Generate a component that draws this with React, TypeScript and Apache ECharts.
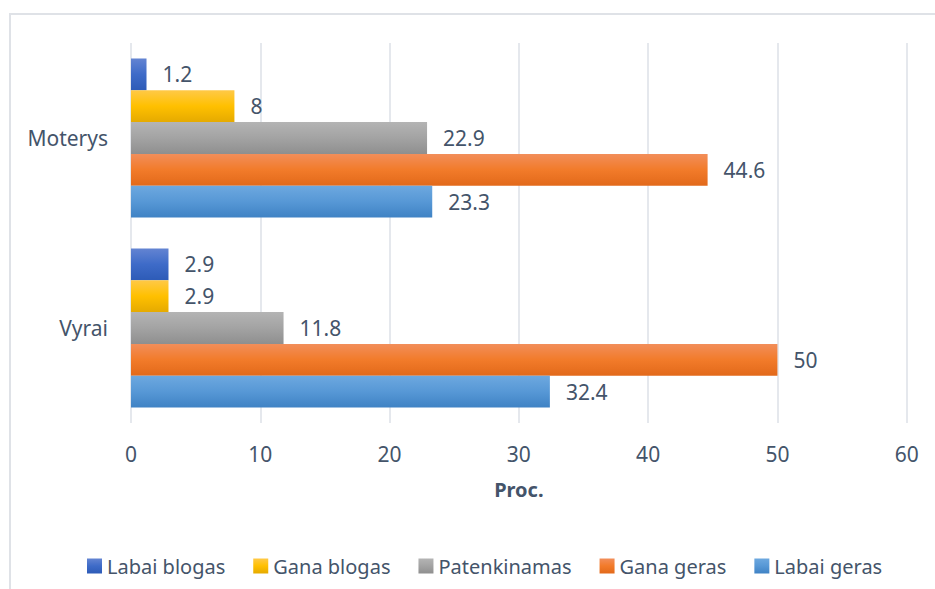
import React, { useEffect, useRef } from "react";
import * as echarts from "echarts";

const categories = ["Vyrai", "Moterys"];
const seriesNames = ["Labai blogas", "Gana blogas", "Patenkinamas", "Gana geras", "Labai geras"];
const labaiBlogas = [2.9, 1.2];
const ganaBlogas = [2.9, 8];
const patenkinamas = [11.8, 22.9];
const ganaGeras = [50, 44.6];
const labaiGeras = [32.4, 23.3];
const xTicks = [0, 10, 20, 30, 40, 50, 60];

const gradients: string[][] = [
  ["#6384D2", "#3E6BC8", "#2D5BB7"],
  ["#FFC947", "#FFC000", "#E5AA00"],
  ["#B4B4B4", "#A3A3A3", "#8F8F8F"],
  ["#F28E5A", "#F27B2A", "#E2691A"],
  ["#6DA8DF", "#5798D6", "#3F82C4"],
];

const TEXT = "#44546A";
const FONT = "Noto Sans";

export default function App() {
  const ref = useRef<HTMLDivElement>(null);
  useEffect(() => {
    if (!ref.current) return;
    const chart = echarts.init(ref.current, undefined, { renderer: "svg" });
    const values = [labaiBlogas, ganaBlogas, patenkinamas, ganaGeras, labaiGeras];
    const mkColor = (g: string[]) =>
      new echarts.graphic.LinearGradient(0, 0, 0, 1, [
        { offset: 0, color: g[0] },
        { offset: 0.5, color: g[1] },
        { offset: 1, color: g[2] },
      ]);
    chart.setOption({
      animation: false,
      textStyle: { fontFamily: FONT },
      graphic: [
        {
          type: "rect",
          shape: { x: 10, y: 14, width: 1000, height: 1000 },
          style: { fill: "none", stroke: "#DFE2E7", lineWidth: 2 },
          silent: true,
        },
      ],
      grid: { left: 131, right: 28.3, top: 43, bottom: 166, containLabel: false },
      legend: {
        data: seriesNames,
        left: 82,
        top: 551,
        itemWidth: 15,
        itemHeight: 15,
        itemGap: 28,
        icon: "rect",
        textStyle: { color: TEXT, fontSize: 20, fontFamily: FONT },
      },
      xAxis: {
        type: "value",
        min: xTicks[0],
        max: xTicks[xTicks.length - 1],
        interval: 10,
        name: "Proc.",
        nameLocation: "middle",
        nameGap: 56,
        nameTextStyle: { color: TEXT, fontSize: 20, fontWeight: "bold", fontFamily: FONT },
        axisLine: { show: false },
        axisTick: { show: false },
        axisLabel: { color: TEXT, fontSize: 21, margin: 20, fontFamily: FONT },
        splitLine: { show: true, lineStyle: { color: "#DDE1E7", width: 1.5 } },
      },
      yAxis: {
        type: "category",
        data: categories,
        axisLine: { show: false },
        axisTick: { show: false },
        axisLabel: { color: TEXT, fontSize: 21, margin: 23, fontFamily: FONT },
      },
      series: seriesNames.map((name, i) => ({
        name,
        type: "bar",
        data: values[i],
        barGap: "0%",
        barCategoryGap: "16.3%",
        itemStyle: { color: mkColor(gradients[i]) },
        label: {
          show: true,
          position: "right",
          distance: 16,
          color: TEXT,
          fontSize: 21,
          fontFamily: FONT,
        },
      })),
    });
    return () => chart.dispose();
  }, []);
  return (
    <div
      ref={ref}
      style={{ position: "absolute", left: 0, top: 0, width: 935, height: 589, background: "#fff" }}
    />
  );
}
